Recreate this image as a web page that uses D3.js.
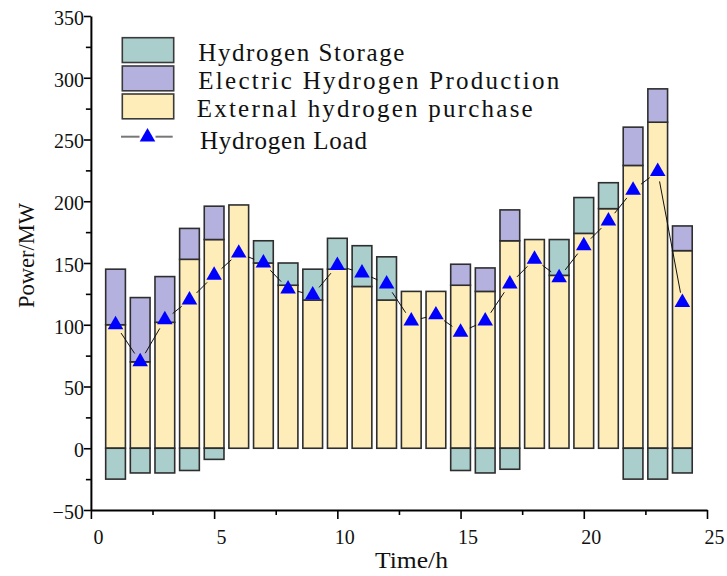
<!DOCTYPE html>
<html>
<head>
<meta charset="utf-8">
<script src="https://cdn.jsdelivr.net/npm/d3@7"></script>
<style>
  html, body { margin: 0; padding: 0; background: #fff; }
  svg { display: block; }
  text { font-family: "Liberation Serif", "DejaVu Serif", serif; fill: #111; }
</style>
</head>
<body>
<svg id="chart" width="727" height="576"></svg>
<script>
// Hourly hydrogen balance (MW)
const hours = d3.range(1, 25);
const externalPurchase = [100, 70, 102, 153, 169, 197, 150, 132, 120, 145, 131, 120,
                          127, 127, 132, 127, 168, 169, 140, 174, 194, 229, 264, 160];
const electricProduction = [45, 52, 37, 25, 27, 0, 0, 0, 0, 0, 0, 0,
                            0, 0, 17, 19, 25, 0, 0, 0, 0, 31, 27, 20];
const storage = [-25, -20, -20, -18, -9, 0, 18, 18, 25, 25, 33, 35,
                 0, 0, -18, -20, -17, 0, 29, 29, 21, -25, -25, -20];
const hydrogenLoad = [100, 70, 104, 120, 140, 158, 150, 129, 124, 148, 142, 133,
                      103, 108, 94, 103, 133, 153, 138, 164, 184, 209, 224, 118];

const xTicks = [0, 5, 10, 15, 20, 25];
const xMinorTicks = [2.5, 7.5, 12.5, 17.5, 22.5];
const yTicks = [-50, 0, 50, 100, 150, 200, 250, 300, 350];
const yMinorTicks = [-25, 25, 75, 125, 175, 225, 275, 325];

const legendItems = ["Hydrogen Storage", "Electric Hydrogen Production", "External hydrogen purchase"];
const loadLabel = "Hydrogen Load";

const colors = {
  storage: "#aacecb",
  electric: "#b4b1df",
  external: "#feecb9",
  edge: "#2e2e2e",
  marker: "#0000ff"
};
const serif = '"Liberation Serif", "DejaVu Serif", serif';

const svg = d3.select("#chart");
const x = d3.scaleLinear().domain([0, 25]).range([90.9, 707]);
const y = d3.scaleLinear().domain([-50, 350]).range([510, 16]);
const barW = x(0.8) - x(0);

// stacked segments per hour
const segments = [];
hours.forEach((h, i) => {
  const ext = externalPurchase[i], ele = electricProduction[i], st = storage[i];
  segments.push({ h, y0: 0, y1: ext, fill: colors.external });
  let top = ext;
  if (ele > 0) { segments.push({ h, y0: top, y1: top + ele, fill: colors.electric }); top += ele; }
  if (st > 0) segments.push({ h, y0: top, y1: top + st, fill: colors.storage });
  if (st < 0) segments.push({ h, y0: st, y1: 0, fill: colors.storage });
});

svg.append("g").selectAll("rect").data(segments).join("rect")
  .attr("x", d => x(d.h) - barW / 2)
  .attr("width", barW)
  .attr("y", d => y(d.y1))
  .attr("height", d => y(d.y0) - y(d.y1))
  .attr("fill", d => d.fill)
  .attr("stroke", colors.edge)
  .attr("stroke-width", 1.6);

// load line drawn as gapped segments between markers
const pts = hours.map((h, i) => [x(h), y(hydrogenLoad[i])]);
const gap = 10;
const segs = [];
for (let i = 0; i < pts.length - 1; i++) {
  const [ax, ay] = pts[i], [bx, by] = pts[i + 1];
  const dx = bx - ax, dy = by - ay, len = Math.hypot(dx, dy);
  if (len <= 2 * gap) continue;
  const ux = dx / len, uy = dy / len;
  segs.push([[ax + ux * gap, ay + uy * gap], [bx - ux * gap, by - uy * gap]]);
}
const line = d3.line();
svg.append("g").selectAll("path").data(segs).join("path")
  .attr("d", line)
  .attr("fill", "none")
  .attr("stroke", "#111")
  .attr("stroke-width", 1);

const tri = d3.symbol().type(d3.symbolTriangle).size(105);
svg.append("g").selectAll("path").data(pts).join("path")
  .attr("d", tri)
  .attr("transform", d => `translate(${d[0]},${d[1]})`)
  .attr("fill", colors.marker);

// axes
const axisStyle = g => {
  g.attr("font-family", null).attr("font-size", null);
  g.selectAll("path.domain").attr("stroke", "#000").attr("stroke-width", 2);
  g.selectAll(".tick line").attr("stroke", "#000").attr("stroke-width", 1.6);
};

const yAxisMinor = svg.append("g").attr("transform", `translate(${x(0)},0)`)
  .call(d3.axisLeft(y).tickValues(yMinorTicks).tickSize(5).tickSizeOuter(0).tickFormat(""));
yAxisMinor.select("path.domain").remove();
axisStyle(yAxisMinor);

const yAxis = svg.append("g").attr("transform", `translate(${x(0)},0)`)
  .call(d3.axisLeft(y).tickValues(yTicks).tickSize(7).tickSizeOuter(0).tickPadding(0).tickFormat(d3.format("d")));
axisStyle(yAxis);
yAxis.selectAll(".tick text")
  .style("font-family", serif)
  .style("font-size", "20px")
  .style("fill", "#111")
  .attr("dy", "0.42em");

const xAxisMinor = svg.append("g").attr("transform", `translate(0,${y(-50)})`)
  .call(d3.axisBottom(x).tickValues(xMinorTicks).tickSize(5).tickSizeOuter(0).tickFormat(""));
xAxisMinor.select("path.domain").remove();
axisStyle(xAxisMinor);

const xAxis = svg.append("g").attr("transform", `translate(0,${y(-50)})`)
  .call(d3.axisBottom(x).tickValues(xTicks).tickSize(9).tickSizeOuter(0).tickPadding(11).tickFormat(d3.format("d")));
axisStyle(xAxis);
xAxis.selectAll(".tick text")
  .style("font-family", serif)
  .style("font-size", "20px")
  .style("fill", "#111")
  .attr("dx", 7);

// axis titles
svg.append("text")
  .attr("x", 411.5).attr("y", 568)
  .attr("text-anchor", "middle")
  .style("font-family", serif).style("font-size", "24px")
  .attr("textLength", 73).attr("lengthAdjust", "spacingAndGlyphs")
  .text("Time/h");

svg.append("text")
  .attr("transform", "translate(34,255.5) rotate(-90)")
  .attr("text-anchor", "middle")
  .style("font-family", serif).style("font-size", "24px")
  .attr("textLength", 105).attr("lengthAdjust", "spacingAndGlyphs")
  .text("Power/MW");

// legend
const legend = svg.append("g");
const swFill = [colors.storage, colors.electric, colors.external];
const swTop = [37.7, 66, 94];
const textBase = [60.7, 89, 116.7];
const textLen = [206, 361, 336];
legendItems.forEach((name, i) => {
  legend.append("rect")
    .attr("x", 122.3).attr("y", swTop[i])
    .attr("width", 51.4).attr("height", 24.8)
    .attr("fill", swFill[i])
    .attr("stroke", "#3a3a3a").attr("stroke-width", 1.6);
  legend.append("text")
    .attr("x", i === 2 ? 196.7 : 198.3).attr("y", textBase[i])
    .style("font-family", serif).style("font-size", "25px")
    .attr("textLength", textLen[i]).attr("lengthAdjust", "spacing")
    .text(name);
});
legend.append("line").attr("x1", 121).attr("x2", 139.5).attr("y1", 136.7).attr("y2", 136.7)
  .attr("stroke", "#777").attr("stroke-width", 2);
legend.append("line").attr("x1", 155.5).attr("x2", 172.7).attr("y1", 136.7).attr("y2", 136.7)
  .attr("stroke", "#777").attr("stroke-width", 2);
legend.append("path").attr("d", tri).attr("transform", "translate(147.5,137)").attr("fill", colors.marker);
legend.append("text")
  .attr("x", 200).attr("y", 149)
  .style("font-family", serif).style("font-size", "25px")
  .attr("textLength", 167).attr("lengthAdjust", "spacing")
  .text(loadLabel);
</script>
</body>
</html>
